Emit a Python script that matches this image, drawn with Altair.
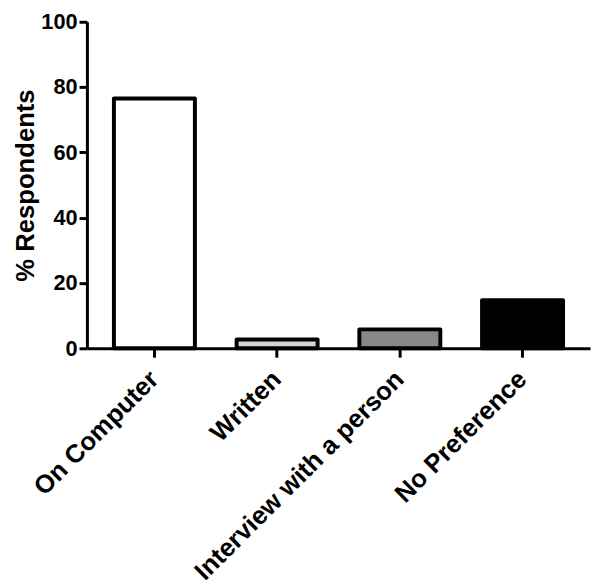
import altair as alt
import pandas as pd

categories = ["On Computer", "Written", "Interview with a person", "No Preference"]
values = [76.5, 2.7, 5.8, 14.7]
fills = ["#ffffff", "#d4d4d4", "#878787", "#000000"]
y_ticks = [0, 20, 40, 60, 80, 100]

df = pd.DataFrame({"category": categories, "value": values})

FONT = "Liberation Sans"

chart = (
    alt.Chart(df)
    .mark_bar(stroke="black", strokeWidth=4, strokeJoin="round")
    .encode(
        x=alt.X(
            "category:N",
            sort=categories,
            title=None,
            scale=alt.Scale(paddingInner=0.34, paddingOuter=0.22),
            axis=alt.Axis(
                labelAngle=-45,
                labelAlign="right",
                labelBaseline="middle",
                labelFont=FONT,
                labelFontWeight="bold",
                labelFontSize=26,
                labelColor="black",
                labelPadding=18,
                labelLimit=0,
                domainColor="black",
                domainWidth=3,
                tickColor="black",
                tickWidth=3,
                tickSize=9,
            ),
        ),
        y=alt.Y(
            "value:Q",
            title="% Respondents",
            scale=alt.Scale(domain=[0, 100], nice=False),
            axis=alt.Axis(
                values=y_ticks,
                grid=False,
                labelFont=FONT,
                labelFontWeight="bold",
                labelFontSize=22,
                labelColor="black",
                labelPadding=2,
                titleFont=FONT,
                titleFontWeight="bold",
                titleFontSize=26,
                titleColor="black",
                titlePadding=2,
                domainColor="black",
                domainWidth=3,
                tickColor="black",
                tickWidth=3,
                tickSize=8,
            ),
        ),
        fill=alt.Fill(
            "category:N",
            scale=alt.Scale(domain=categories, range=fills),
            legend=None,
        ),
    )
    .properties(
        width=510,
        height=331,
        autosize=alt.AutoSizeParams(type="none"),
        padding={"left": 80, "top": 10, "right": 2, "bottom": 237},
    )
    .configure_view(stroke=None)
)

chart.save("out.html", embed_options={"renderer": "svg", "actions": False})
